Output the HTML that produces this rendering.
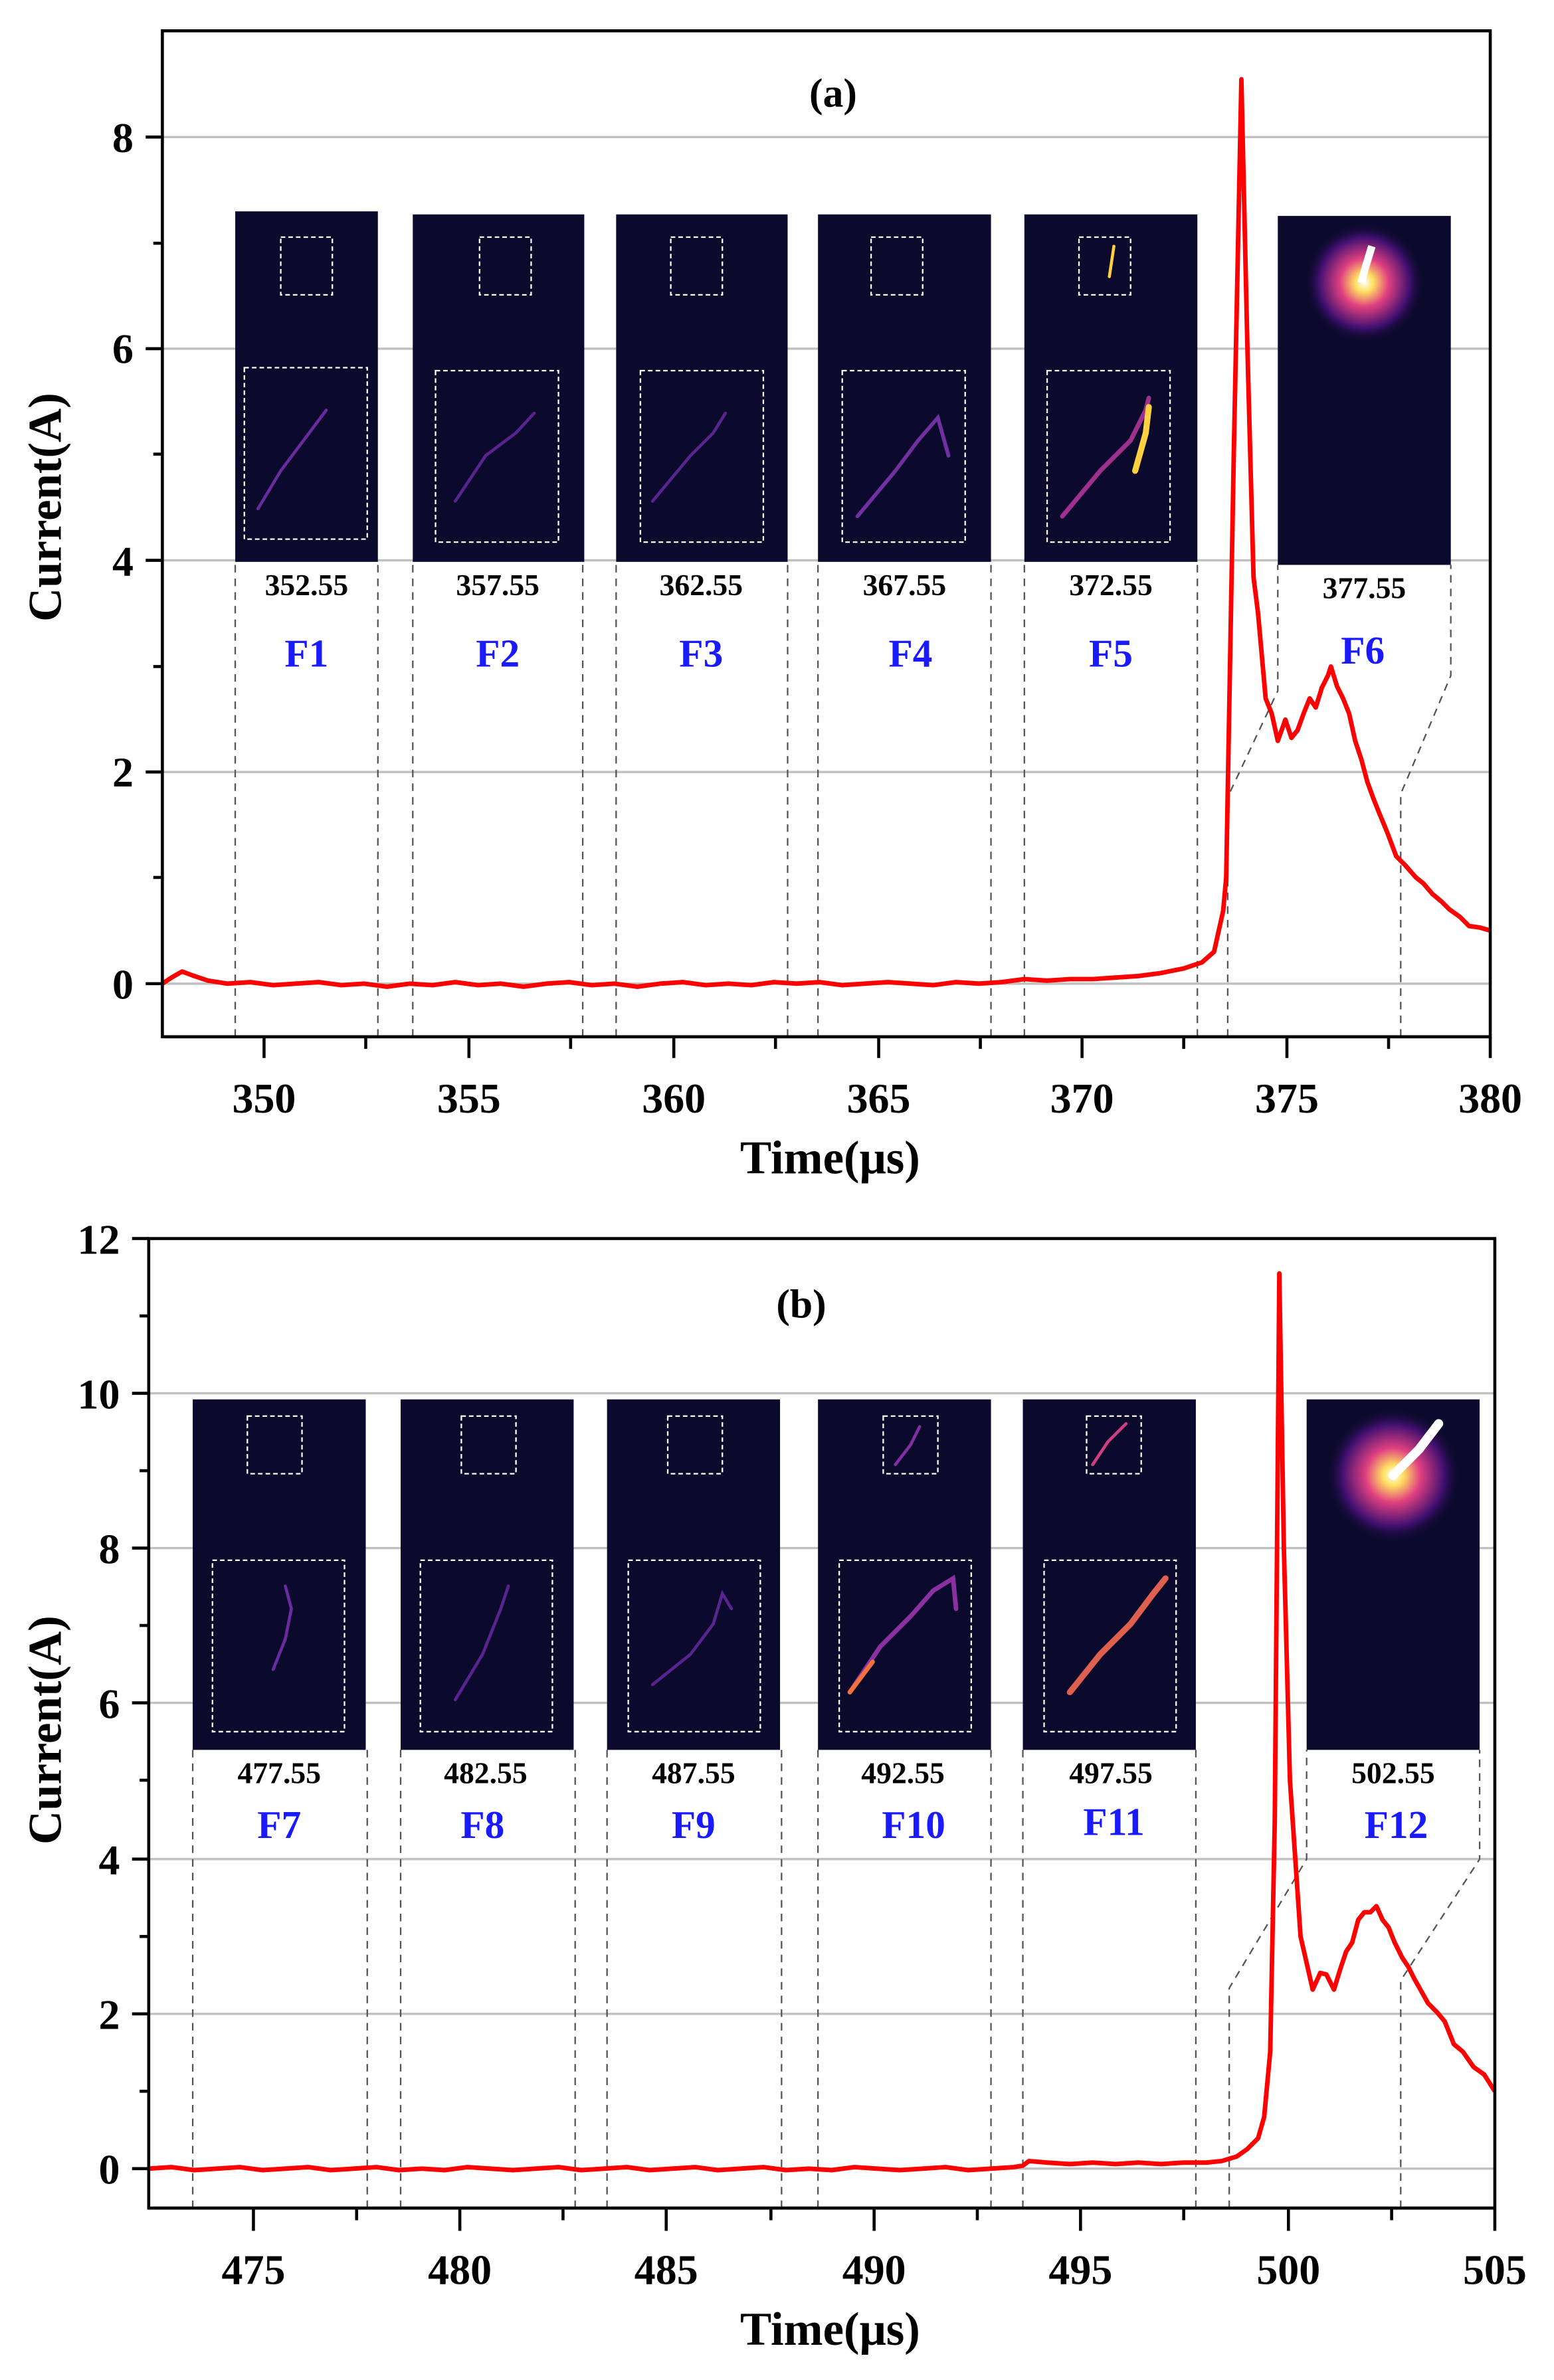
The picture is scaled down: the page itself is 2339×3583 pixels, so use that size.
<!DOCTYPE html>
<html><head><meta charset="utf-8"><style>
html,body{margin:0;padding:0;background:#fff}
svg{display:block}
text{font-family:"Liberation Serif",serif;font-weight:bold}
</style></head><body>
<svg width="2339" height="3583" viewBox="0 0 1024 1568" xmlns="http://www.w3.org/2000/svg">
<defs>
<radialGradient id="g6" cx="0.5" cy="0.5" r="0.5">
<stop offset="0" stop-color="#fff"/><stop offset="0.15" stop-color="#ffe060"/><stop offset="0.4" stop-color="#e04080"/><stop offset="0.75" stop-color="#401070"/><stop offset="1" stop-color="#0a0826" stop-opacity="0"/>
</radialGradient>
</defs>
<!-- ===== Panel (a) ===== -->
<g stroke="#c0c0c0" stroke-width="1.5">
<line x1="107" y1="648" x2="982" y2="648"/><line x1="107" y1="508.5" x2="982" y2="508.5"/><line x1="107" y1="369" x2="982" y2="369"/><line x1="107" y1="229.5" x2="982" y2="229.5"/><line x1="107" y1="90" x2="982" y2="90"/>
</g>
<g stroke="#555" stroke-width="1" stroke-dasharray="5,4" fill="none">
<polyline points="155,683 155,370"/><polyline points="249,683 249,370"/>
<polyline points="272,683 272,370"/><polyline points="384,683 384,370"/>
<polyline points="406,683 406,370"/><polyline points="519,683 519,370"/>
<polyline points="539,683 539,370"/><polyline points="653,683 653,370"/>
<polyline points="675,683 675,370"/><polyline points="789,683 789,370"/>
<polyline points="809,683 809,525 842,455 842,372"/><polyline points="923,683 923,523 956,445 956,372"/>
</g>
<polyline fill="none" stroke="#ff0000" stroke-width="3" stroke-linejoin="round" points="107,648 113,644 120,640 128,643 137,646 150,648 165,647 180,649 195,648 210,647 225,649 240,648 255,650 270,648 285,649 300,647 315,649 330,648 345,650 360,648 375,647 390,649 405,648 420,650 435,648 450,647 465,649 480,648 495,649 510,647 525,648 540,647 555,649 570,648 585,647 600,648 615,649 630,647 645,648 660,647 675,645 690,646 705,645 720,645 735,644 750,643 765,641 780,638 792,634 800,627 806,600 808,578 813,299 818,52 822,230 826,380 829,404 834,460 838,470 842,488 847,474 851,486 855,481 859,470 863,460 867,466 871,453 875,445 877,439 881,452 885,460 889,470 893,488 897,500 901,515 905,526 909,536 914,548 920,564 926,570 933,578 938,582 944,589 950,594 955,599 962,604 968,610 975,611 982,613"/>
<rect x="107" y="20" width="875" height="663" fill="none" stroke="#000" stroke-width="2"/>
<g stroke="#000" stroke-width="2">
<line x1="107" y1="683" x2="982" y2="683"/>
<line x1="174" y1="683" x2="174" y2="697"/><line x1="309" y1="683" x2="309" y2="697"/><line x1="444" y1="683" x2="444" y2="697"/><line x1="579" y1="683" x2="579" y2="697"/><line x1="713" y1="683" x2="713" y2="697"/><line x1="848" y1="683" x2="848" y2="697"/><line x1="982" y1="683" x2="982" y2="697"/>
<line x1="241" y1="683" x2="241" y2="691"/><line x1="376" y1="683" x2="376" y2="691"/><line x1="511" y1="683" x2="511" y2="691"/><line x1="646" y1="683" x2="646" y2="691"/><line x1="780" y1="683" x2="780" y2="691"/><line x1="915" y1="683" x2="915" y2="691"/>
<line x1="107" y1="648" x2="96" y2="648"/><line x1="107" y1="508.5" x2="96" y2="508.5"/><line x1="107" y1="369" x2="96" y2="369"/><line x1="107" y1="229.5" x2="96" y2="229.5"/><line x1="107" y1="90" x2="96" y2="90"/>
<line x1="107" y1="578" x2="101" y2="578"/><line x1="107" y1="439" x2="101" y2="439"/><line x1="107" y1="299" x2="101" y2="299"/><line x1="107" y1="160" x2="101" y2="160"/>
</g>
<g font-size="28" text-anchor="middle">
<text x="174" y="733">350</text><text x="309" y="733">355</text><text x="444" y="733">360</text><text x="579" y="733">365</text><text x="713" y="733">370</text><text x="848" y="733">375</text><text x="982" y="733">380</text>
</g>
<g font-size="28" text-anchor="end">
<text x="88" y="658">0</text><text x="88" y="518">2</text><text x="88" y="379">4</text><text x="88" y="239">6</text><text x="88" y="100">8</text>
</g>
<text x="547" y="773" font-size="31" text-anchor="middle">Time(μs)</text>
<text transform="translate(40,334) rotate(-90)" font-size="31" text-anchor="middle">Current(A)</text>
<text x="549" y="70" font-size="27" text-anchor="middle">(a)</text>
<g>
<rect x="155" y="139" width="94" height="231" fill="#0b0a2c"/>
<rect x="272" y="141" width="113" height="229" fill="#0b0a2c"/>
<rect x="406" y="141" width="113" height="229" fill="#0b0a2c"/>
<rect x="539" y="141" width="114" height="229" fill="#0b0a2c"/>
<rect x="675" y="141" width="114" height="229" fill="#0b0a2c"/>
<rect x="842" y="142" width="114" height="230" fill="#0b0a2c"/>
<circle cx="899" cy="186" r="40" fill="url(#g6)"/>
<path d="M904,162 L900,175 L897,186" stroke="#fff" stroke-width="5" fill="none"/>
</g>
<g stroke="#fff" stroke-width="1" stroke-dasharray="3,2" fill="none">
<rect x="185" y="156" width="34" height="38"/><rect x="161" y="242" width="81" height="113"/>
<rect x="316" y="156" width="34" height="38"/><rect x="287" y="244" width="81" height="113"/>
<rect x="442" y="156" width="34" height="38"/><rect x="422" y="244" width="81" height="113"/>
<rect x="574" y="156" width="34" height="38"/><rect x="555" y="244" width="81" height="113"/>
<rect x="711" y="156" width="34" height="38"/><rect x="690" y="244" width="81" height="113"/>
</g>
<g fill="none" stroke-linecap="round">
<path d="M170,335 L185,310 L200,290 L215,270" stroke="#6a2aa0" stroke-width="2"/>
<path d="M300,330 L320,300 L340,285 L352,272" stroke="#5a2490" stroke-width="2"/>
<path d="M430,330 L455,300 L470,285 L478,272" stroke="#5a2490" stroke-width="2"/>
<path d="M565,340 L590,310 L605,290 L618,275 L625,300" stroke="#7030a0" stroke-width="2.5"/>
<path d="M700,340 L725,310 L745,290 L755,270 L757,262" stroke="#a03090" stroke-width="3"/>
<path d="M748,310 L755,285 L757,268" stroke="#ffd040" stroke-width="4"/>
<path d="M734,162 L731,182" stroke="#ffd040" stroke-width="2"/>
</g>
<g font-size="20" text-anchor="middle" fill="#000">
<text x="202" y="392">352.55</text><text x="328" y="392">357.55</text><text x="462" y="392">362.55</text><text x="596" y="392">367.55</text><text x="732" y="392">372.55</text><text x="899" y="394">377.55</text>
</g>
<g font-size="26" text-anchor="middle" fill="#1a1aff">
<text x="202" y="439">F1</text><text x="328" y="439">F2</text><text x="462" y="439">F3</text><text x="600" y="439">F4</text><text x="732" y="439">F5</text><text x="898" y="437">F6</text>
</g>

<!-- ===== Panel (b) ===== -->
<g stroke="#c0c0c0" stroke-width="1.5">
<line x1="98" y1="1429" x2="985" y2="1429"/><line x1="98" y1="1327" x2="985" y2="1327"/><line x1="98" y1="1225" x2="985" y2="1225"/><line x1="98" y1="1122" x2="985" y2="1122"/><line x1="98" y1="1020" x2="985" y2="1020"/><line x1="98" y1="918" x2="985" y2="918"/><line x1="98" y1="816" x2="985" y2="816"/>
</g>
<g stroke="#555" stroke-width="1" stroke-dasharray="5,4" fill="none">
<polyline points="127,1455 127,1153"/><polyline points="242,1455 242,1153"/>
<polyline points="264,1455 264,1153"/><polyline points="379,1455 379,1153"/>
<polyline points="400,1455 400,1153"/><polyline points="515,1455 515,1153"/>
<polyline points="539,1455 539,1153"/><polyline points="653,1455 653,1153"/>
<polyline points="674,1455 674,1153"/><polyline points="788,1455 788,1153"/>
<polyline points="810,1455 810,1310 861,1225 861,1153"/><polyline points="923,1455 923,1305 975,1225 975,1153"/>
</g>
<polyline fill="none" stroke="#ff0000" stroke-width="3" stroke-linejoin="round" points="98,1429 113,1428 128,1430 143,1429 158,1428 173,1430 188,1429 203,1428 218,1430 233,1429 248,1428 263,1430 278,1429 293,1430 308,1428 323,1429 338,1430 353,1429 368,1428 383,1430 398,1429 413,1428 428,1430 443,1429 458,1428 473,1430 488,1429 503,1428 518,1430 533,1429 548,1430 563,1428 578,1429 593,1430 608,1429 623,1428 638,1430 653,1429 668,1428 674,1427 678,1424 690,1425 705,1426 720,1425 735,1426 750,1425 765,1426 780,1425 795,1425 805,1424 815,1421 822,1416 829,1409 833,1395 837,1352 840,1200 843,839 846,1020 850,1173 857,1276 865,1311 870,1300 874,1301 879,1311 883,1298 887,1286 891,1280 895,1265 899,1260 903,1260 907,1256 911,1265 915,1270 919,1280 924,1290 928,1296 932,1304 936,1311 941,1320 947,1326 952,1332 958,1347 964,1352 971,1362 978,1367 985,1378"/>
<rect x="98" y="816" width="887" height="639" fill="none" stroke="#000" stroke-width="2"/>
<g stroke="#000" stroke-width="2">
<line x1="98" y1="1455" x2="985" y2="1455"/>
<line x1="167" y1="1455" x2="167" y2="1470"/><line x1="303" y1="1455" x2="303" y2="1470"/><line x1="439" y1="1455" x2="439" y2="1470"/><line x1="576" y1="1455" x2="576" y2="1470"/><line x1="712" y1="1455" x2="712" y2="1470"/><line x1="849" y1="1455" x2="849" y2="1470"/><line x1="985" y1="1455" x2="985" y2="1470"/>
<line x1="235" y1="1455" x2="235" y2="1463"/><line x1="371" y1="1455" x2="371" y2="1463"/><line x1="508" y1="1455" x2="508" y2="1463"/><line x1="644" y1="1455" x2="644" y2="1463"/><line x1="780" y1="1455" x2="780" y2="1463"/><line x1="917" y1="1455" x2="917" y2="1463"/>
<line x1="98" y1="1429" x2="87" y2="1429"/><line x1="98" y1="1327" x2="87" y2="1327"/><line x1="98" y1="1225" x2="87" y2="1225"/><line x1="98" y1="1122" x2="87" y2="1122"/><line x1="98" y1="1020" x2="87" y2="1020"/><line x1="98" y1="918" x2="87" y2="918"/><line x1="98" y1="816" x2="87" y2="816"/>
<line x1="98" y1="1378" x2="92" y2="1378"/><line x1="98" y1="1276" x2="92" y2="1276"/><line x1="98" y1="1173" x2="92" y2="1173"/><line x1="98" y1="1071" x2="92" y2="1071"/><line x1="98" y1="969" x2="92" y2="969"/><line x1="98" y1="867" x2="92" y2="867"/>
</g>
<g font-size="28" text-anchor="middle">
<text x="167" y="1505">475</text><text x="303" y="1505">480</text><text x="439" y="1505">485</text><text x="576" y="1505">490</text><text x="712" y="1505">495</text><text x="849" y="1505">500</text><text x="985" y="1505">505</text>
</g>
<g font-size="28" text-anchor="end">
<text x="79" y="1439">0</text><text x="79" y="1337">2</text><text x="79" y="1235">4</text><text x="79" y="1132">6</text><text x="79" y="1030">8</text><text x="79" y="928">10</text><text x="79" y="826">12</text>
</g>
<text x="547" y="1545" font-size="31" text-anchor="middle">Time(μs)</text>
<text transform="translate(40,1140) rotate(-90)" font-size="31" text-anchor="middle">Current(A)</text>
<text x="528" y="868" font-size="27" text-anchor="middle">(b)</text>
<g fill="#0b0a2c">
<rect x="127" y="922" width="114" height="231"/>
<rect x="264" y="922" width="114" height="231"/>
<rect x="400" y="922" width="114" height="231"/>
<rect x="539" y="922" width="114" height="231"/>
<rect x="674" y="922" width="114" height="231"/>
<rect x="861" y="922" width="114" height="231"/>
</g>
<circle cx="918" cy="972" r="45" fill="url(#g6)"/>
<path d="M918,972 L935,955 L948,938" stroke="#fff" stroke-width="6" fill="none" stroke-linecap="round"/>
<g stroke="#fff" stroke-width="1" stroke-dasharray="3,2" fill="none">
<rect x="163" y="933" width="36" height="38"/><rect x="140" y="1028" width="87" height="113"/>
<rect x="304" y="933" width="36" height="38"/><rect x="277" y="1028" width="87" height="113"/>
<rect x="440" y="933" width="36" height="38"/><rect x="414" y="1028" width="87" height="113"/>
<rect x="582" y="933" width="36" height="38"/><rect x="553" y="1028" width="87" height="113"/>
<rect x="716" y="933" width="36" height="38"/><rect x="688" y="1028" width="87" height="113"/>
</g>
<g fill="none" stroke-linecap="round">
<path d="M180,1100 L188,1080 L192,1060 L188,1045" stroke="#6a2aa0" stroke-width="2"/>
<path d="M300,1120 L318,1090 L330,1060 L335,1045" stroke="#5a2490" stroke-width="2"/>
<path d="M430,1110 L455,1090 L470,1070 L476,1050 L482,1060" stroke="#5a2490" stroke-width="2"/>
<path d="M560,1115 L580,1085 L600,1065 L615,1048 L628,1040 L630,1060" stroke="#8a30a0" stroke-width="3"/>
<path d="M560,1115 L575,1095" stroke="#f07040" stroke-width="3"/>
<path d="M705,1115 L725,1090 L745,1070 L760,1050 L768,1040" stroke="#e06050" stroke-width="4"/>
<path d="M720,965 L730,950 L742,938" stroke="#d04080" stroke-width="2"/>
<path d="M590,965 L600,952 L606,940" stroke="#8030a0" stroke-width="2"/>
</g>
<g font-size="20" text-anchor="middle" fill="#000">
<text x="184" y="1175">477.55</text><text x="320" y="1175">482.55</text><text x="457" y="1175">487.55</text><text x="595" y="1175">492.55</text><text x="732" y="1175">497.55</text><text x="918" y="1175">502.55</text>
</g>
<g font-size="26" text-anchor="middle" fill="#1a1aff">
<text x="184" y="1211">F7</text><text x="318" y="1211">F8</text><text x="457" y="1211">F9</text><text x="602" y="1211">F10</text><text x="734" y="1209">F11</text><text x="920" y="1211">F12</text>
</g>
</svg>
</body></html>
